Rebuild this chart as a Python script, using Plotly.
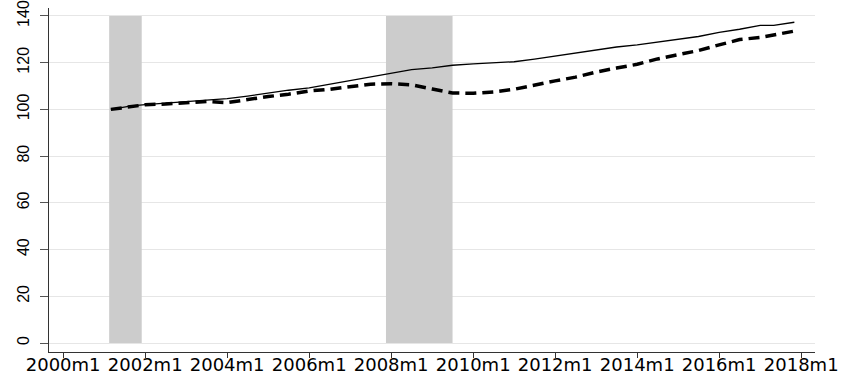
import plotly.graph_objects as go
import pandas as pd

# --- data ---
solid_dates = ["2001-03", "2001-09", "2002-01", "2002-07", "2003-01", "2003-07", "2004-01",
               "2004-07", "2005-01", "2005-07", "2006-01", "2006-07", "2007-01", "2007-07",
               "2008-01", "2008-07", "2009-01", "2009-07", "2010-01", "2010-07", "2011-01",
               "2011-07", "2012-01", "2012-07", "2013-01", "2013-07", "2014-01", "2014-07",
               "2015-01", "2015-07", "2016-01", "2016-07", "2017-01", "2017-05", "2017-11"]
solid_values = [100, 101.5, 102, 102.5, 103.3, 104, 104.6,
                105.7, 107, 108.2, 109.2, 110.8, 112.3, 113.8,
                115.5, 117, 117.8, 118.9, 119.5, 119.8, 120.4,
                121.5, 122.8, 124, 125.2, 126.7, 127.6, 128.8,
                129.9, 131.2, 133, 134.3, 136, 136, 137.3]

dashed_dates = ["2001-03", "2001-07", "2002-01", "2002-07", "2003-01", "2003-07", "2004-01",
                "2004-07", "2005-01", "2005-07", "2006-01", "2006-07", "2007-01", "2007-07",
                "2008-01", "2008-07", "2009-01", "2009-07", "2010-01", "2010-07", "2011-01",
                "2011-07", "2012-01", "2012-07", "2013-01", "2013-07", "2014-01", "2014-07",
                "2015-01", "2015-07", "2016-01", "2016-07", "2017-01", "2017-07", "2017-11"]
dashed_values = [100, 100.8, 102, 102.3, 103, 103.4, 102.9,
                 104.3, 105.5, 106.5, 107.9, 108.6, 109.6, 110.8,
                 111, 110.5, 108.7, 107, 106.9, 107.5, 108.6,
                 110.5, 112.2, 113.8, 116, 117.7, 119.3, 121.6,
                 123.3, 125.2, 127.6, 129.9, 130.8, 132.2, 133.5]

recession_start = ["2001-03", "2007-12"]
recession_end = ["2001-11", "2009-06"]
shade_low, shade_high = 0, 140

tick_dates = ["2000-01", "2002-01", "2004-01", "2006-01", "2008-01", "2010-01",
              "2012-01", "2014-01", "2016-01", "2018-01"]
tick_labels = ["2000m1", "2002m1", "2004m1", "2006m1", "2008m1", "2010m1",
               "2012m1", "2014m1", "2016m1", "2018m1"]
y_ticks = [0, 20, 40, 60, 80, 100, 120, 140]

fig = go.Figure()

half_month = pd.Timedelta(days=15)
for s, e in zip(recession_start, recession_end):
    x0 = pd.Timestamp(s) - half_month
    x1 = pd.Timestamp(e) + pd.Timedelta(days=45) - half_month
    fig.add_shape(type="rect", xref="x", yref="y", x0=x0, x1=x1,
                  y0=shade_low, y1=shade_high, fillcolor="#cccccc",
                  line=dict(width=0), layer="between")

fig.add_trace(go.Scatter(x=pd.to_datetime(solid_dates), y=solid_values, mode="lines",
                         line=dict(color="black", width=1.3), showlegend=False))
fig.add_trace(go.Scatter(x=pd.to_datetime(dashed_dates), y=dashed_values, mode="lines",
                         line=dict(color="black", width=3.5, dash="11px,6px"),
                         showlegend=False))

fig.update_layout(
    width=843, height=381,
    margin=dict(l=49, r=28, t=8, b=29, autoexpand=False),
    paper_bgcolor="white", plot_bgcolor="white",
    font=dict(family="Liberation Sans, Arial, sans-serif", color="black"),
)
fig.update_xaxes(
    type="date", automargin=False,
    range=["1999-08-28", "2018-05-04"],
    tickvals=pd.to_datetime(tick_dates), ticktext=tick_labels,
    ticks="outside", ticklen=5, tickcolor="#333333", tickwidth=1,
    showline=True, linecolor="#333333", linewidth=1,
    showgrid=False, zeroline=False,
    tickfont=dict(family="DejaVu Sans", size=18, color="black"),
    ticklabelstandoff=-9,
)
fig.update_yaxes(
    automargin=False,
    range=[-3.85, 143.4],
    tickvals=y_ticks,
    ticks="outside", ticklen=8, tickcolor="#555555", tickwidth=1,
    showline=True, linecolor="#333333", linewidth=1,
    showgrid=True, gridcolor="#e6e6e6", gridwidth=1,
    zeroline=False, tickangle=-90,
    tickfont=dict(family="Liberation Sans", size=16, color="black"),
    ticklabelstandoff=5, ticklabeloverflow="allow",
)

fig.write_html("out.html", config={"displayModeBar": False},
               post_script="document.body.style.margin='0';document.body.style.overflow='hidden';")
